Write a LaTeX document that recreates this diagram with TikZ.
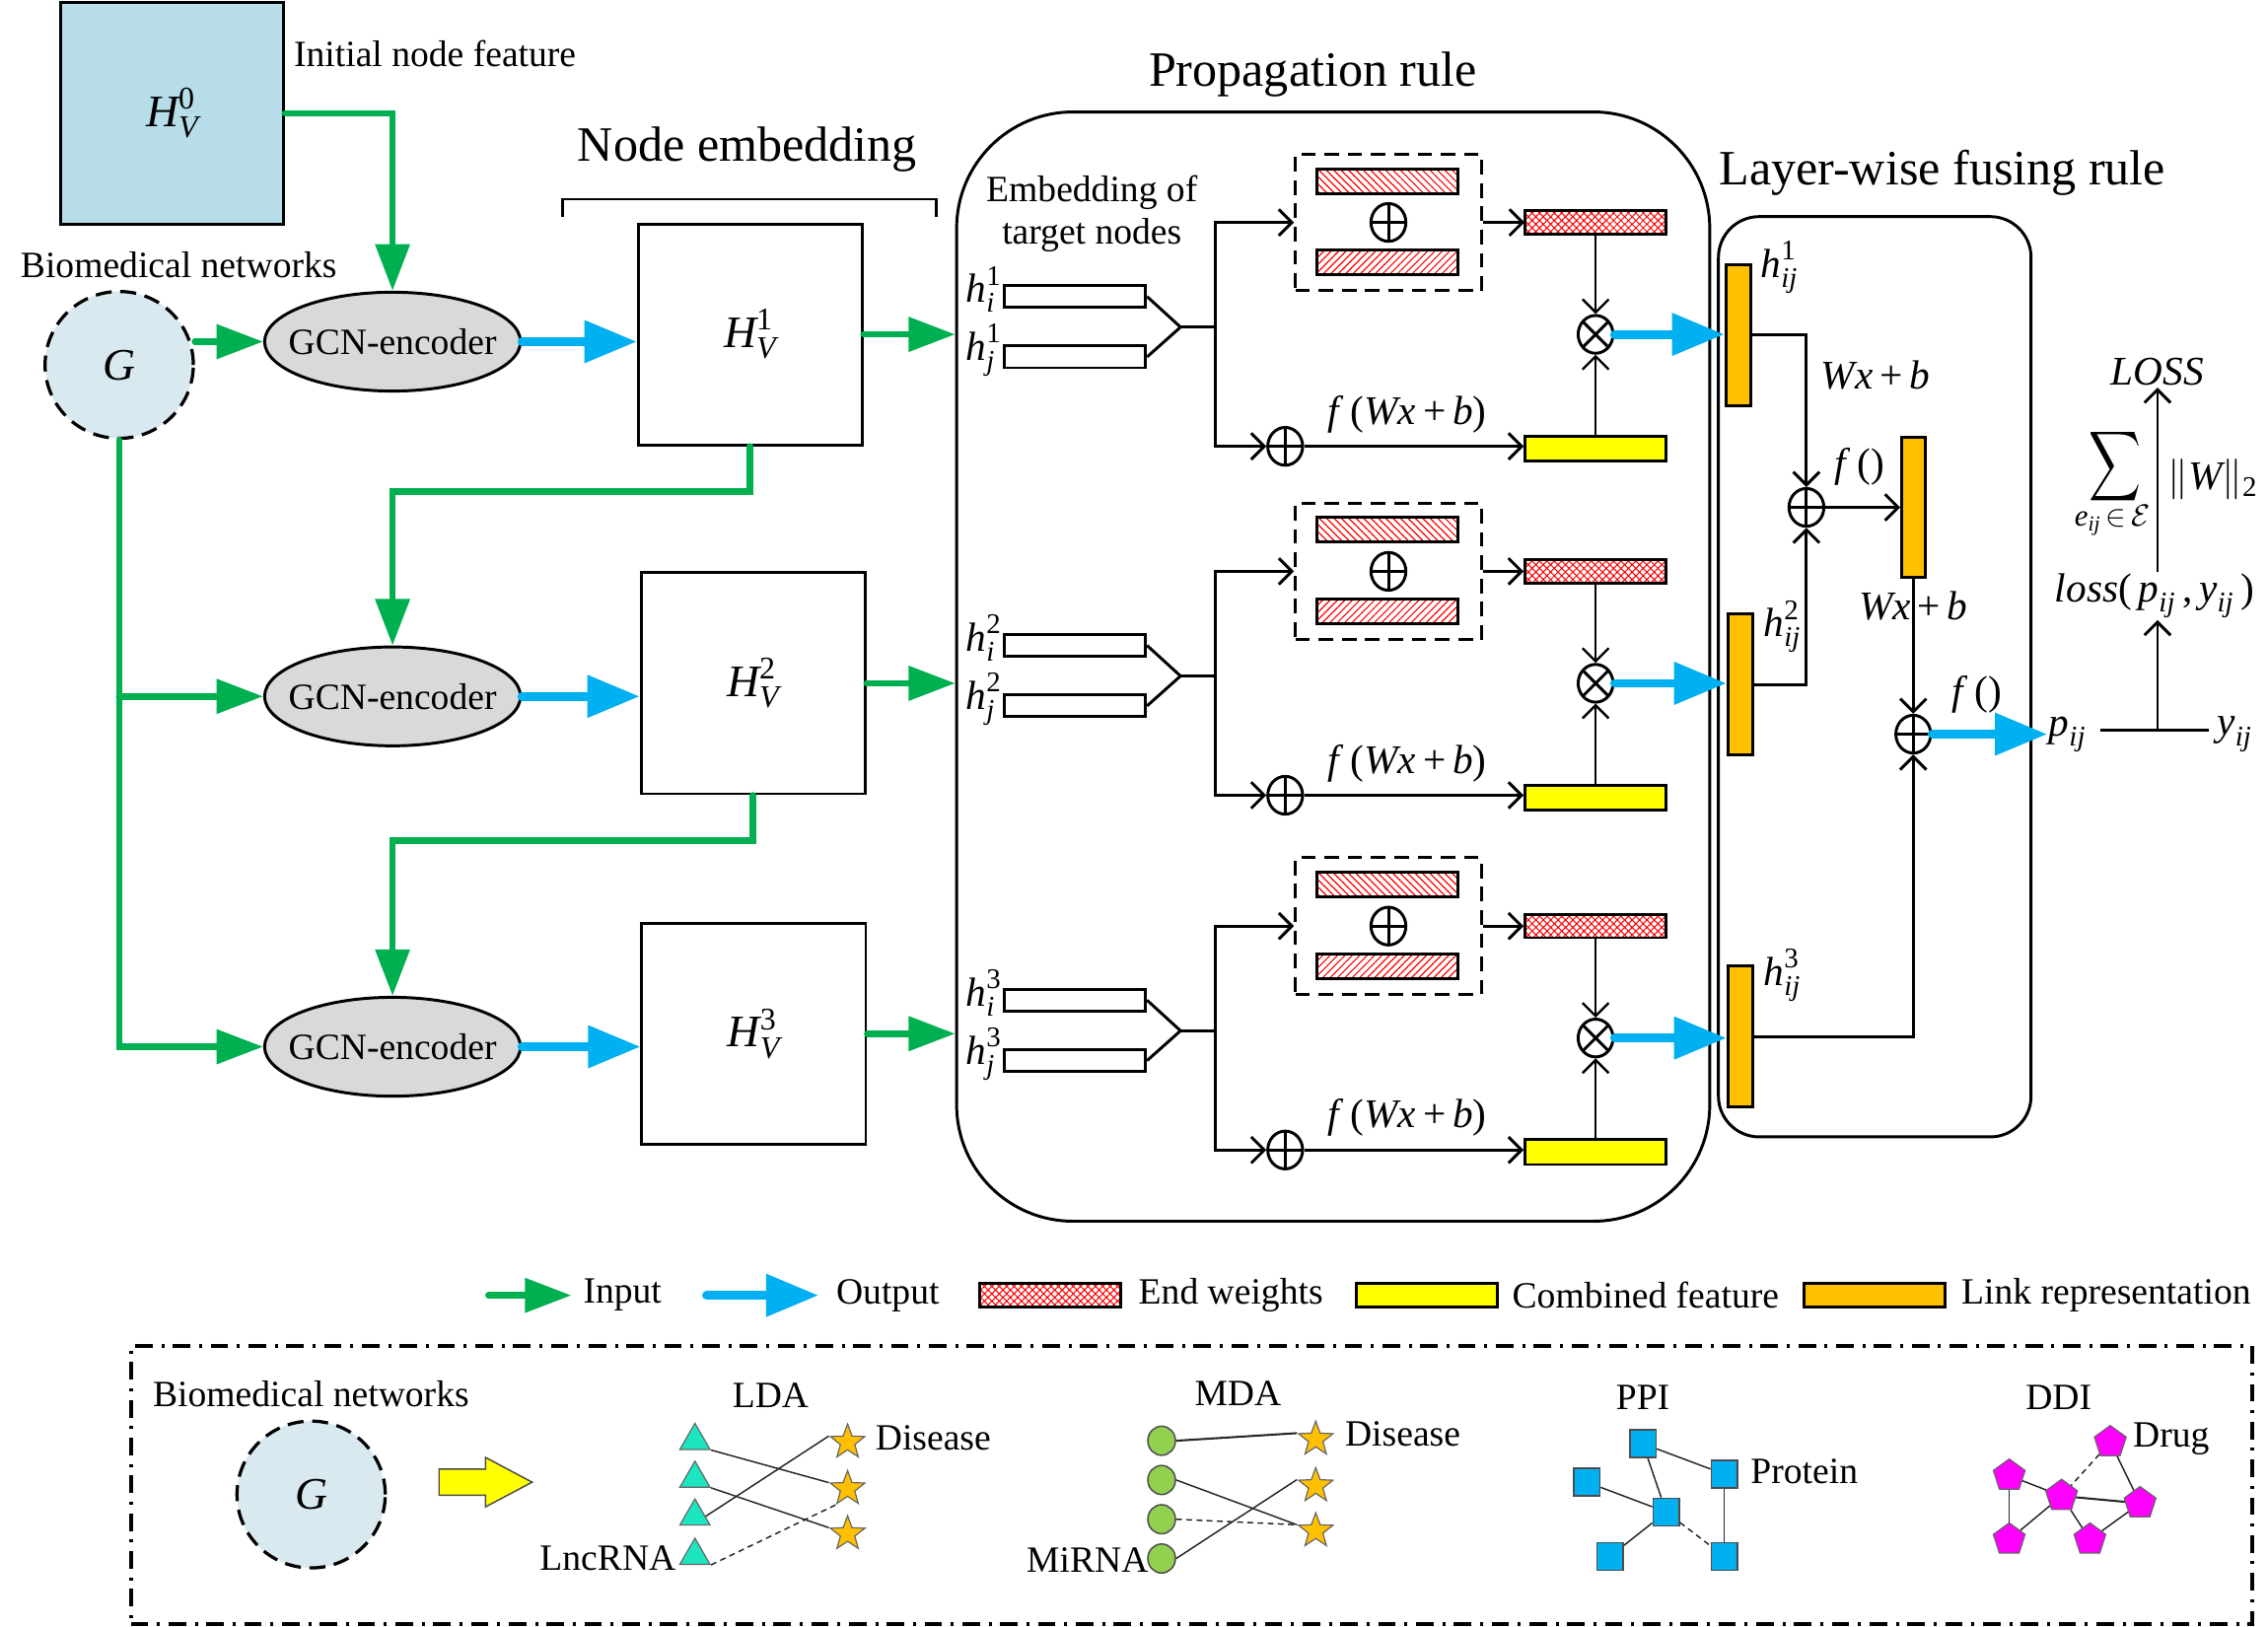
\RequirePackage{fix-cm}
\documentclass[tikz,border=0pt]{standalone}
\usepackage{amsmath}
\usepackage{fontspec}
\setmainfont{Liberation Serif}
\usetikzlibrary{arrows.meta,shapes.geometric,patterns.meta}
\definecolor{gA}{HTML}{00B050}
\definecolor{bA}{HTML}{00B0F0}
\definecolor{hzero}{HTML}{B7DDE8}
\definecolor{gcnfill}{HTML}{D9D9D9}
\definecolor{gfill}{HTML}{D8E9EF}
\definecolor{yelC}{HTML}{FFFF00}
\definecolor{orgC}{HTML}{FFC000}
\definecolor{triC}{HTML}{1BE6C0}
\definecolor{mgreen}{HTML}{92D050}
\definecolor{magC}{HTML}{FF00FF}
\newcommand{\fsA}{\fontsize{25.5}{30}\selectfont}
\newcommand{\fsT}{\fontsize{34}{40}\selectfont}
\newcommand{\fsM}{\fontsize{28}{34}\selectfont}
\newcommand{\fsH}{\fontsize{31}{36}\selectfont}
\newcommand{\fsS}{\fontsize{31}{36}\selectfont}
\newcommand{\fsU}{\fontsize{21}{25}\selectfont}
\newcommand{\hvx}[3]{$\textit{#1}^{\textup{#2}}_{\textit{#3}}$}
\begin{document}
\begin{tikzpicture}[x=1pt,y=-1pt,font=\fsA,
 blk/.style={line width=2pt},
 thinl/.style={line width=1.6pt},
 barb/.style={-{Straight Barb[length=9pt,width=18pt]}},
 gline/.style={draw=gA, line width=4.5pt, line cap=round},
 garrow/.style={gline, -{Triangle[length=32pt,width=23pt]}},
 barrow/.style={draw=bA, line width=6pt, line cap=round, -{Triangle[length=36pt,width=28pt]}},
 hbox/.style={draw, line width=2pt, minimum width=154pt, minimum height=152pt, inner sep=0pt},
 gcn/.style={ellipse, draw, line width=2pt, fill=gcnfill, minimum width=176pt, minimum height=68pt, inner sep=0pt},
 gnode/.style={ellipse, draw, line width=2.2pt, dash pattern=on 11pt off 6pt, fill=gfill, minimum width=102pt, minimum height=101pt, inner sep=0pt},
 vbox/.style={draw, line width=2pt, fill=white, minimum width=97pt, minimum height=15pt, inner sep=0pt},
 dbox/.style={draw, line width=2pt, dash pattern=on 10pt off 6pt, minimum width=128pt, minimum height=94pt, inner sep=0pt},
 hatchA/.style={draw, line width=2pt, pattern={Lines[angle=-45,distance=3.6pt,line width=0.8pt]}, pattern color=red, minimum width=97pt, minimum height=17pt, inner sep=0pt},
 hatchB/.style={draw, line width=2pt, pattern={Lines[angle=45,distance=3.6pt,line width=0.8pt]}, pattern color=red, minimum width=97pt, minimum height=17pt, inner sep=0pt},
 ewbox/.style={draw, line width=2pt, pattern={Hatch[angle=45,distance=3.6pt,line width=0.7pt]}, pattern color=red, minimum width=97pt, minimum height=16pt, inner sep=0pt},
 ybox/.style={draw, line width=2pt, fill=yelC, minimum width=97pt, minimum height=17pt, inner sep=0pt},
 obar/.style={draw, line width=2pt, fill=orgC, minimum width=17pt, minimum height=97pt, inner sep=0pt},
 oplus/.style={ellipse, draw, line width=2pt, fill=white, minimum width=24pt, minimum height=26pt, inner sep=0pt,
   path picture={\draw[line width=2pt] (path picture bounding box.north) -- (path picture bounding box.south)
     (path picture bounding box.west) -- (path picture bounding box.east);}},
 otimes/.style={ellipse, draw, line width=2pt, fill=white, minimum width=24pt, minimum height=26pt, inner sep=0pt,
   path picture={\draw[line width=2pt] ([shift={(-14pt,-14pt)}]path picture bounding box.center) -- ([shift={(14pt,14pt)}]path picture bounding box.center)
     ([shift={(-14pt,14pt)}]path picture bounding box.center) -- ([shift={(14pt,-14pt)}]path picture bounding box.center);}},
 lbl/.style={inner sep=0pt},
 tri/.style={regular polygon, regular polygon sides=3, draw=black!60, line width=0.8pt, fill=triC, minimum size=24pt, inner sep=0pt},
 stari/.style={star, star points=5, star point ratio=2.4, draw=black!60, line width=0.8pt, fill=orgC, minimum size=25pt, inner sep=0pt},
 circm/.style={ellipse, draw=black!70, line width=1pt, fill=mgreen, minimum width=19pt, minimum height=20pt, inner sep=0pt},
 sqp/.style={draw=black!70, line width=1pt, fill=bA, minimum width=18pt, minimum height=19pt, inner sep=0pt},
 pent/.style={regular polygon, regular polygon sides=5, draw=black!60, line width=0.8pt, fill=magC, minimum size=23pt, inner sep=0pt},
 net/.style={line width=1pt, draw=black!85},
 netd/.style={net, dash pattern=on 4pt off 3pt}
]
\useasboundingbox (0,0) rectangle (1560,1119);

% ---------------- left part ----------------
\node[draw, line width=2pt, fill=hzero, minimum width=153pt, minimum height=152pt, inner sep=0pt] (H0) at (118.5,78) {\fsH\hvx{H}{0}{V}};
\node[lbl, anchor=west] (tinit) at (202,37) {Initial node feature};
\node[lbl, anchor=west] (tbio) at (14,182) {Biomedical networks};
\node[gnode] (G) at (82,251) {\fsH\itshape G};
\node[gcn] (gcn1) at (270,235) {};
\node[gcn] (gcn2) at (270,479) {};
\node[gcn] (gcn3) at (270,720) {};
\node (tg1) at (gcn1) {GCN-encoder};
\node (tg2) at (gcn2) {GCN-encoder};
\node (tg3) at (gcn3) {GCN-encoder};
\node[hbox] (H1) at (516,230) {\fsH\hvx{H}{1}{V}};
\node[hbox] (H2) at (518,470) {\fsH\hvx{H}{2}{V}};
\node[hbox] (H3) at (518.5,711) {\fsH\hvx{H}{3}{V}};
\draw[blk] (387,149) -- (387,137) -- (644,137) -- (644,149);
\node (tne) at (514,103) {\fsT Node embedding};

\draw[garrow] (H0.east) -| (gcn1.north);
\draw[garrow] (gcn1.west -| G.east) -- (gcn1.west);
\draw[garrow] (G.south) |- (gcn3.west);
\draw[garrow] (G.south |- gcn2.west) -- (gcn2.west);
\draw[garrow] (H1.south) -- ++(0,31) -| (gcn2.north);
\draw[garrow] (H2.south) -- ++(0,31) -| (gcn3.north);
\draw[barrow] (gcn1.east) -- (gcn1.east -| H1.west);
\draw[barrow] (gcn2.east) -- (gcn2.east -| H2.west);
\draw[barrow] (gcn3.east) -- (gcn3.east -| H3.west);

% ---------------- propagation rule ----------------
\node[draw, line width=2pt, rounded corners=80pt, minimum width=518pt, minimum height=763pt, inner sep=0pt] (prop) at (917,458.5) {};
\node (tprop) at (903,51) {\fsT Propagation rule};
\node[draw, line width=2pt, rounded corners=28pt, minimum width=215pt, minimum height=633pt, inner sep=0pt] (layer) at (1289.5,465.5) {};
\node (tlay) at (1336,119) {\fsT Layer-wise fusing rule};
\node[align=center, inner sep=0pt] (temb) at (751,147) {Embedding of\\[-1pt]target nodes};

\draw[garrow] (H1.east) -- (H1.east -| prop.west);
\draw[garrow] (H2.east) -- (H2.east -| prop.west);
\draw[garrow] (H3.east) -- (H3.east -| prop.west);

% layer-wise bars
\node[obar] (bar1) at (1195.5,230.5) {};
\node[obar] (bar2) at (1197,471) {};
\node[obar] (bar3) at (1197,713) {};
\node[obar, minimum width=16pt, minimum height=96pt] (fbar) at (1316,349) {};

\foreach \k/\o in {1/0,2/240,3/484}{
 \node[vbox] (hi\k) at (739.5,204+\o) {};
 \node[vbox] (hj\k) at (739.5,245.5+\o) {};
 \node[lbl, anchor=east] (lhi\k) at (689,199+\o) {\fsM\hvx{h}{\k}{i}};
 \node[lbl, anchor=east] (lhj\k) at (689,241+\o) {\fsM\hvx{h}{\k}{j}};
 \coordinate (cv\k) at (812,225+\o);
 \coordinate (jn\k) at (836,225+\o);
 \node[dbox] (db\k) at (955,153+\o) {};
 \node[hatchA] (ha\k) at (954.5,124.5+\o) {};
 \node[hatchB] (hb\k) at (954.5,180.5+\o) {};
 \node[oplus] (pa\k) at (955,153+\o) {};
 \node[ewbox] (ew\k) at (1097.5,153+\o) {};
 \node[otimes] (ot\k) at (1097.5,230+\o) {};
 \node[ybox] (yb\k) at (1097.5,308.5+\o) {};
 \node[oplus] (pb\k) at (884,307+\o) {};
 \node (fw\k) at (968,285+\o) {\fsM\textit{f}\,(\textit{Wx}\,+\,\textit{b})};
 \draw[blk] (hi\k.east) -- (cv\k) -- (hj\k.east);
 \draw[blk] (cv\k) -- (jn\k);
 \draw[blk, barb] (jn\k) |- (db\k.west);
 \draw[blk, barb] (jn\k) |- (pb\k.west);
 \draw[blk, barb] (db\k.east) -- (ew\k.west);
 \draw[blk, barb] (pb\k.east) -- (pb\k.east -| yb\k.west);
 \draw[thinl, barb] (ew\k.south) -- (ot\k.north);
 \draw[thinl, barb] (yb\k.north) -- (ot\k.south);
 \draw[barrow] (ot\k.east) -- (ot\k.east -| bar\k.west);
}

% ---------------- layer-wise fusing ----------------
\node[lbl, anchor=west] (lb1) at (1211,184) {\fsM\hvx{h}{1}{ij}};
\node[lbl, anchor=west] (lb2) at (1213,431) {\fsM\hvx{h}{2}{ij}};
\node[lbl, anchor=west] (lb3) at (1213,671) {\fsM\hvx{h}{3}{ij}};
\node[oplus] (opa) at (1242.5,349) {};
\node[oplus] (opb) at (1316,505) {};
\node (wxa) at (1290,258) {\fsM\textit{Wx}\,+\,\textit{b}};
\node (fa) at (1279,321) {\fsM\textit{f}\,()};
\node (wxb) at (1316,417) {\fsM\textit{Wx}\,+\,\textit{b}};
\node (fb) at (1360,478) {\fsM\textit{f}\,()};
\draw[blk, barb] (bar1.east) -| (opa.north);
\draw[blk, barb] (bar2.east) -| (opa.south);
\draw[blk, barb] (opa.east) -- (fbar.west);
\draw[blk, barb] (fbar.south) -- (opb.north);
\draw[blk, barb] (bar3.east) -| (opb.south);

% ---------------- loss ----------------
\node[inner sep=1pt] (pij) at (1422,505) {\fsM$\textit{p}_{\textit{ij}}$};
\node[inner sep=1pt] (yij) at (1537,505) {\fsM$\textit{y}_{\textit{ij}}$};
\draw[barrow] (opb.east) -- (pij.west);
\coordinate (ml) at (1445,502);
\coordinate (mr) at (1519,502);
\coordinate (mj) at (1484,502);
\draw[blk] (ml) -- (mr);
\node[inner sep=1pt] (loss) at (1482,410) {\fsM\textit{loss}(\,$\textit{p}_{\textit{ij}}$\,,\,$\textit{y}_{\textit{ij}}$\,)};
\node[inner sep=1pt] (LOSS) at (1484,256) {\fsM\textit{LOSS}};
\draw[blk, barb] (mj) -- (mj |- loss.south);
\draw[blk, barb] (mj |- loss.north) -- (mj |- LOSS.south);
\node[inner sep=0pt] (sum) at (1455,321) {\fsS\scalebox{1}[1.35]{$\displaystyle\sum$}};
\node[inner sep=0pt] (sumsub) at (1453,358) {\fsU$\textit{e}_{\textit{ij}}\,{\in}\,\mathcal{E}$};
\node (norm) at (1522,330) {\fsM$\|\textit{W}\|_{\textup{2}}$};

% ---------------- legend ----------------
\coordinate (lga) at (336,891);
\coordinate (lgb) at (393,891);
\draw[garrow] (lga) -- (lgb);
\node[lbl, anchor=west] (tin) at (401,891) {Input};
\coordinate (lba) at (486,891);
\coordinate (lbb) at (563,891);
\draw[barrow] (lba) -- (lbb);
\node[lbl, anchor=west] (tout) at (575,891) {Output};
\node[ewbox] (lew) at (722.5,891) {};
\node[lbl, anchor=west] (tew) at (783,891) {End weights};
\node[ybox, minimum height=16pt] (lyb) at (981.5,891) {};
\node[lbl, anchor=west] (tcf) at (1040,891) {Combined feature};
\node[draw, line width=2pt, fill=orgC, minimum width=97pt, minimum height=16pt, inner sep=0pt] (lob) at (1289.5,891) {};
\node[lbl, anchor=west] (tlr) at (1349,891) {Link representation};

% ---------------- bottom panel ----------------
\node[draw, line width=2.5pt, dash pattern=on 12pt off 6pt on 2pt off 6pt, minimum width=1459pt, minimum height=191pt, inner sep=0pt] (panel) at (819.5,1021.5) {};
\node[lbl, anchor=west] (tbio2) at (105,959) {Biomedical networks};
\node[gnode] (G2) at (214,1028) {\fsH\itshape G};
\filldraw[fill=yelC, draw=black!70, line width=1pt] (302,1010.5) -- (334,1010.5) -- (334,1002.5) -- (366,1019.5) -- (334,1036.5) -- (334,1028.5) -- (302,1028.5) -- cycle;

% LDA
\node (tlda) at (530,960) {LDA};
\node[tri] (l1) at (478,991) {};
\node[tri] (l2) at (478,1017) {};
\node[tri] (l3) at (478,1043) {};
\node[tri] (l4) at (478,1070) {};
\node[stari] (d1) at (583,992) {};
\node[stari] (d2) at (583,1024) {};
\node[stari] (d3) at (583,1055) {};
\node[lbl, anchor=west] (tdis1) at (602,989) {Disease};
\node[lbl, anchor=east] (tlnc) at (465,1072) {LncRNA};
\draw[net] (l1.corner 3) -- (d2.outer point 2);
\draw[net] (l2.corner 3) -- (d3.outer point 2);
\draw[net] (l3.east) -- (d1.outer point 2);
\draw[netd] (l4.corner 3) -- (d2.outer point 3);

% MDA
\node (tmda) at (851.5,958.5) {MDA};
\node[circm] (m1) at (799,991) {};
\node[circm] (m2) at (799,1018) {};
\node[circm] (m3) at (799,1045) {};
\node[circm] (m4) at (799,1072) {};
\node[stari] (e1) at (905,990) {};
\node[stari] (e2) at (905,1022) {};
\node[stari] (e3) at (905,1053) {};
\node[lbl, anchor=west] (tdis2) at (925,986.5) {Disease};
\node[lbl, anchor=east] (tmir) at (790,1073) {MiRNA};
\draw[net, line width=1.4pt] (m1.east) -- (e1.outer point 2);
\draw[net] (m2.east) -- (e3.outer point 2);
\draw[netd] (m3.east) -- (e3.outer point 2);
\draw[net] (m4.east) -- (e2.outer point 2);

% PPI
\node (tppi) at (1130,961) {PPI};
\node[sqp] (pA) at (1130,993) {};
\node[sqp] (pB) at (1186,1014) {};
\node[sqp] (pC) at (1091.5,1019.5) {};
\node[sqp] (pD) at (1146,1040) {};
\node[sqp] (pE) at (1107.5,1070.5) {};
\node[sqp] (pF) at (1186,1070.5) {};
\node[lbl, anchor=west] (tprot) at (1204,1012) {Protein};
\draw[net] (pA) -- (pB);
\draw[net] (pA) -- (pD);
\draw[net] (pC) -- (pD);
\draw[net] (pD) -- (pE);
\draw[netd] (pD) -- (pF);
\draw[net] (pB) -- (pF);

% DDI
\node (tddi) at (1416,961) {DDI};
\node[pent] (q1) at (1451.5,992) {};
\node[pent] (q2) at (1382,1015) {};
\node[pent] (q3) at (1418,1029) {};
\node[pent] (q4) at (1472,1034) {};
\node[pent] (q5) at (1382,1059) {};
\node[pent] (q6) at (1437.5,1059) {};
\node[lbl, anchor=west] (tdrug) at (1467,990) {Drug};
\draw[netd] (q1) -- (q3);
\draw[net] (q1) -- (q4);
\draw[net] (q2) -- (q3);
\draw[net, line width=1.4pt] (q3) -- (q4);
\draw[net] (q2) -- (q5);
\draw[net] (q3) -- (q5);
\draw[net] (q3) -- (q6);
\draw[net] (q4) -- (q6);
\end{tikzpicture}
\end{document}
